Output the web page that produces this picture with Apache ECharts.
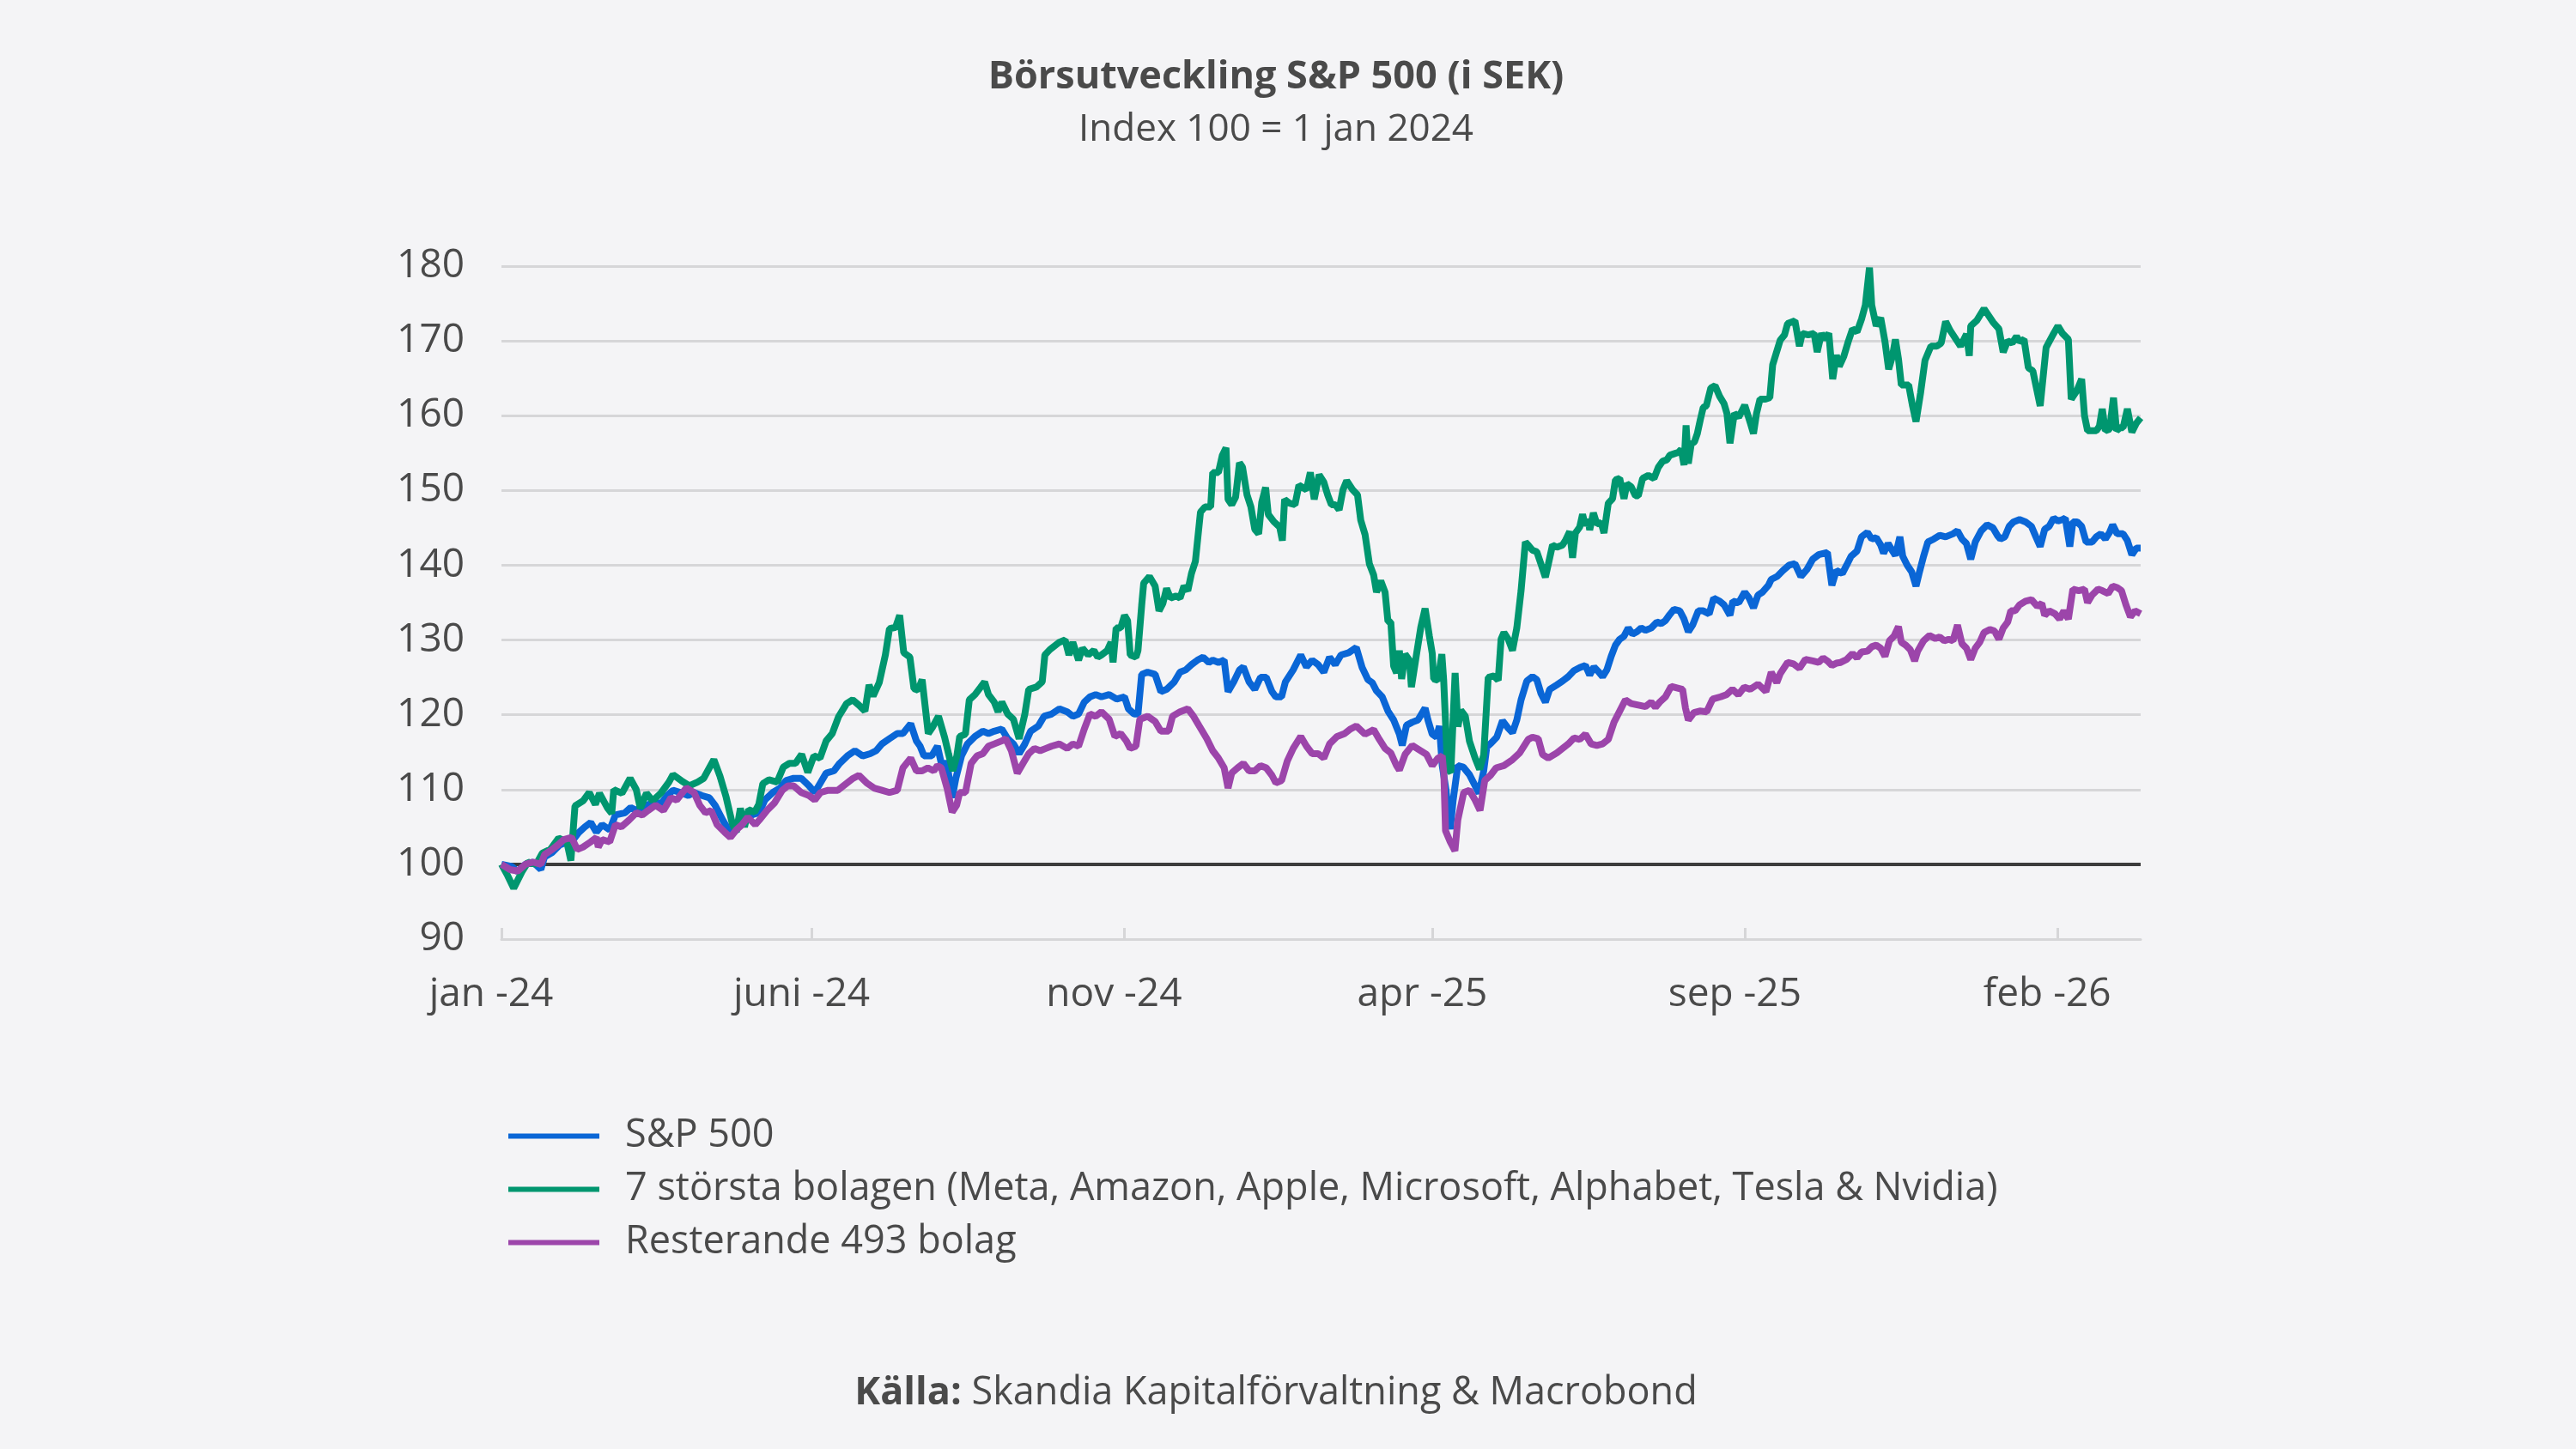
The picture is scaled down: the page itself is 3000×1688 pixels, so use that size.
<!DOCTYPE html>
<html>
<head>
<meta charset="utf-8">
<script src="https://cdn.jsdelivr.net/npm/echarts@6/dist/echarts.min.js"></script>
<style>
html,body{margin:0;padding:0;background:#f4f4f6;}
#chart{width:3000px;height:1688px;}
</style>
</head>
<body>
<div id="chart"></div>
<script>
// ---- Data ----
const titleText = 'Börsutveckling S&P 500 (i SEK)';
const subtitleText = 'Index 100 = 1 jan 2024';
const sourceBold = 'Källa:';
const sourceText = ' Skandia Kapitalförvaltning & Macrobond';

const seriesNames = [
  'S&P 500',
  '7 största bolagen (Meta, Amazon, Apple, Microsoft, Alphabet, Tesla & Nvidia)',
  'Resterande 493 bolag'
];

const xTickDates = ['2024-01-01', '2024-06-01', '2024-11-01', '2025-04-01', '2025-09-01', '2026-02-01'];
const xTickLabels = ['jan -24', 'juni -24', 'nov -24', 'apr -25', 'sep -25', 'feb -26'];
const yMin = 90, yMax = 180, yStep = 10;
const baseline = 100;

// [days since 2024-01-01, index value]
const spData = [[0,100],[5.1,99.7],[8,99],[11.7,100],[15.5,100.3],[19.3,99.3],[21.1,101],[24.9,101.6],[28.6,102.6],[32.4,103],[35.2,103.3],[38,104.3],[40.8,105],[43.7,105.6],[46.5,104.3],[49.3,105.3],[53,104.6],[55.8,106.6],[60.5,106.9],[63.3,107.6],[66.1,107.2],[69,107.6],[73.7,108.2],[78.4,108.2],[81.2,109.2],[84,109.9],[87.7,109.6],[91.5,109.2],[94.3,109.6],[98.1,109.2],[101.8,108.9],[104.6,107.9],[108.4,105.9],[111.2,104.6],[114,104.3],[116.8,105.3],[119.6,105.9],[122.5,106.6],[126.2,106.9],[129,108.6],[132.8,109.6],[136.5,110.2],[139.3,111.2],[143.1,111.5],[146.8,111.5],[150.6,110.5],[153.4,109.6],[156.2,110.9],[159,112.2],[162.8,112.5],[165.6,113.5],[169.4,114.5],[173.1,115.2],[176.9,114.5],[180.6,114.8],[183.5,115.2],[186.3,116.1],[190,116.8],[193.8,117.5],[196.6,117.5],[200.4,118.8],[203.2,116.5],[205,115.8],[206.9,114.5],[210.7,114.5],[213.5,115.8],[215.4,113.5],[218.2,113.5],[220.7,108.9],[222.5,111.5],[225.3,114.5],[228.2,116.1],[231.9,117.1],[235.7,117.8],[238.5,117.5],[241.3,117.8],[245,118.1],[247.9,116.8],[250.7,116.1],[253.5,114.8],[256.3,116.1],[259.1,117.8],[262.9,118.5],[265.7,119.8],[269.4,120.1],[273.2,120.8],[277,120.4],[279.8,119.8],[282.6,120.1],[285.4,121.7],[288.2,122.4],[291,122.7],[293.8,122.4],[297.6,122.7],[301.3,122.1],[305.1,122.4],[307,120.8],[309.8,120.1],[311.7,120.1],[313.5,125.4],[316.4,125.7],[320.1,125.4],[322.9,123.1],[325.7,123.4],[329.5,124.4],[332.3,125.7],[335.1,126],[337.9,126.7],[340.8,127.3],[343.6,127.7],[346.4,127],[348.3,127.3],[351.1,127],[353.9,127.3],[355.8,123.1],[358.6,124.4],[361.4,126],[363.3,126.4],[366.1,124.4],[368.9,123.4],[371.7,125],[374.5,125],[377.3,123.1],[379.2,122.4],[382,122.4],[383.9,124.4],[387.7,126],[391.4,128],[394.2,126.4],[397,127.3],[399.9,126.7],[402.7,125.7],[405.5,127.7],[408.3,126.7],[411.1,128],[414.9,128.3],[418.6,129],[421.5,126.3],[424.3,124.7],[426.4,124.3],[428.5,123.2],[431.3,122.4],[434.1,120.5],[436.9,119.3],[439.7,117.4],[441.1,115.9],[443.2,118.6],[446,119],[448.8,119.3],[452.3,120.9],[453.7,119.3],[455.8,117.4],[457.9,117],[459.3,118.5],[460.7,113.2],[462.5,110],[464.6,104.7],[466,108.5],[468.3,113.2],[471,113],[474,112],[476.8,110.5],[478.7,109.5],[481,112.5],[482.5,115.7],[484.6,116.2],[487.4,117],[490.2,119.2],[493,118.2],[495.1,117.6],[497.2,119.3],[499.3,122],[502.1,124.5],[504.9,125.1],[507,124.7],[509.1,122.8],[511.2,121.7],[513.3,123.4],[516.8,124],[519.6,124.5],[522.4,125.1],[525.2,125.9],[528,126.3],[530.8,126.6],[532.9,125.3],[535,126.4],[537.1,125.8],[539.2,125.1],[541.3,126],[543.4,127.8],[545.5,129.3],[547.6,130.1],[549.7,130.5],[551.8,131.6],[553.9,130.8],[556,131.1],[558.1,131.6],[560.2,131.3],[563,131.6],[565.8,132.4],[567.9,132.2],[570,132.6],[572.1,133.4],[574.2,134.1],[577,133.9],[579.1,132.8],[581.2,131.1],[583.3,132],[586.1,133.9],[588.5,133.9],[591.4,133.5],[593.6,135.6],[596.5,135.2],[598.7,134.7],[601.6,133.3],[603,135.2],[605.9,135],[608.8,136.4],[611,135.6],[613.1,134.3],[615.3,136],[617.5,136.4],[620.4,137.3],[621.8,138.1],[624.7,138.5],[627.6,139.3],[630.5,140],[633.4,140.2],[636.3,138.5],[639.2,139.4],[642.1,140.8],[645,141.4],[649.3,141.7],[651.5,137.3],[653.7,139.3],[656.6,138.9],[658.7,140],[660.9,141.2],[663.8,141.9],[666,143.8],[668.9,144.4],[671,143.5],[673.2,143.7],[675.4,142.7],[676.8,141.6],[679,142.9],[681.2,141.9],[682.6,141.3],[684.8,143.8],[686.2,141.2],[688.4,140],[690.6,139.1],[692.7,137.2],[694.2,138.9],[696.4,141.2],[698.5,143.1],[701.4,143.5],[704.3,144],[707.2,143.8],[710.8,144.2],[713,144.6],[715.2,143.5],[717.4,142.9],[719.5,140.8],[721.7,143.1],[724.6,144.6],[727.5,145.4],[730.4,145],[732.5,144],[734,143.5],[736.2,143.8],[738.3,145.2],[740.5,145.8],[743.4,146.1],[746.3,145.8],[749.2,145.2],[751.4,143.8],[753.5,142.5],[755.7,144.8],[757.9,145.2],[760.1,146.3],[762.2,145.9],[764.4,146.1],[765.8,146.3],[768,142.5],[769.5,145.8],[771.6,145.8],[773.8,145.2],[776,143.1],[778.9,143.1],[781,143.8],[783.2,144.2],[785.4,143.5],[787.5,144.4],[789,145.4],[791.2,144.2],[794.1,144.2],[796.2,143.3],[798.4,141.4],[800.6,142.3],[802.7,142.3]];

const m7Data = [[0,100],[3,98.5],[6,96.8],[10,99],[13,100.3],[17,100],[20,101.5],[24,102],[28,103.5],[32,103],[34,100.5],[36,107.8],[40,108.5],[43,109.6],[46,108],[48,109.5],[52,107.5],[54,106.8],[55,110],[59,109.5],[63,111.5],[66,110],[68,107.5],[71,109.5],[74,108.5],[78,109.5],[82,111],[84,112],[88,111.2],[92,110.5],[96,111],[99,111.5],[101,112.5],[104,114],[107,111.8],[110,109],[113,105.5],[115,104.3],[117,107.5],[119,105],[121,107.3],[124,107],[126,108],[128,110.8],[131,111.3],[135,111],[138,113],[141,113.5],[144,113.5],[147,114.7],[150,112.3],[153,114.5],[156,114.2],[159,116.5],[162,117.5],[165,119.7],[169,121.5],[172,122],[175,121.3],[178,120.5],[180,124],[182,122.5],[185,124.3],[188,128],[190,131.5],[193,131.7],[195,133.3],[197,128.3],[200,127.7],[202,123.5],[204,123.3],[206,124.7],[209,117.5],[211,118.3],[214,119.8],[217,117],[219,114.7],[221,112.5],[223,114.5],[224.4,117.1],[227.2,117.4],[229.1,122],[231.9,122.7],[234.7,123.7],[236.6,124.4],[238.5,122.7],[241.3,121.7],[243.2,120.4],[245,121.7],[247.9,120.1],[250.7,119.4],[253.5,116.8],[256.3,120.1],[258.2,123.4],[261.9,123.7],[264.8,124.4],[266.1,128],[268.5,128.7],[271.3,129.3],[273.2,129.7],[276,130],[277.9,128],[279.8,129.7],[282.6,127.3],[284.5,128.9],[287.3,128],[290.1,128.6],[292,127.7],[293.8,128],[296.7,128.6],[298.5,129.7],[299.5,127],[301,131.6],[303.2,131.6],[305.1,133.3],[306.6,132.6],[307.9,128],[310.7,127.7],[311.7,128.6],[313.5,134.6],[314.5,137.6],[317.3,138.5],[320.1,137.2],[322,133.9],[323.9,134.9],[325.7,136.9],[327.6,135.6],[330.4,135.9],[332.3,135.6],[334.2,137.2],[336.1,136.6],[337.9,138.9],[339.8,140.5],[342.3,147.1],[344.5,147.8],[347.3,147.8],[348.3,152.4],[351.1,152.4],[353,154.7],[354.8,155.7],[355.8,148.8],[357.6,148.1],[359.5,149.1],[361.4,153.7],[362.9,153.1],[365.1,149.4],[367,147.8],[368.9,144.8],[370.8,144.2],[372.3,148.4],[374.2,150.4],[375.5,146.8],[378.3,145.8],[381.1,145.1],[382.4,143.3],[383.5,148.8],[385.8,148.3],[388.6,148.1],[390.5,150.7],[394.2,150.1],[396.1,152.4],[398,148.8],[400.4,152.1],[402.7,151.1],[404.6,149.4],[406.4,148.1],[408.3,148.1],[410.2,147.4],[412.1,150.1],[413.9,151.3],[416.8,150.1],[419.2,149.4],[420.8,146],[422.9,144.1],[425,140.2],[427.1,138.7],[428.5,136.4],[430.6,137.9],[432.7,136.4],[434.1,132.5],[435.5,132.4],[436.9,126.5],[438.3,125.6],[439.7,128.6],[440.8,124.8],[442.5,128.1],[444.6,127.3],[445.6,123.7],[448.1,128.1],[450.2,131.7],[452.3,134.2],[454.4,130.5],[455.8,128.2],[456.5,124.8],[458.6,124.6],[460.5,128.1],[461.4,124.6],[463.3,112.7],[464.9,112.3],[467,125.6],[468.4,118.4],[469.8,120.6],[472,119.8],[474,116.5],[476.8,114.2],[479,112.7],[481,114.6],[483.2,125],[486,125.2],[488.1,124.6],[489.5,130.1],[490.9,131],[493,130.1],[495.1,128.6],[497.2,131.6],[499.3,136.6],[501.4,143.1],[502.8,142.7],[504.9,142],[507,141.8],[509.1,140.1],[511.2,138.4],[512.6,140.1],[514.7,142.7],[516.8,142.4],[519.6,142.7],[521,143.3],[523.1,144.5],[524.5,141],[525.9,144.3],[528,145.1],[529.4,146.8],[530.8,145.3],[532.2,146.2],[532.9,144.7],[534.7,147],[536.4,145.5],[538.5,145.7],[539.9,144.3],[542,148.3],[544.1,148.9],[545.5,151.4],[547.6,151.6],[549.7,148.9],[551.1,150.9],[553.2,150.5],[555.3,149.3],[556.7,149.3],[558.8,151.6],[561.6,152],[564.4,151.6],[566.5,153.1],[568.6,153.9],[570.7,154.1],[572.1,154.7],[574.2,154.9],[576.3,155.1],[577.7,155.5],[579.1,153.4],[580.1,158.7],[581.2,153.6],[582.6,156.2],[584.2,156.5],[585.6,157.6],[587.1,159.5],[588.5,161.1],[590,161.3],[592.2,163.7],[594.3,164],[596.5,162.6],[598.7,161.6],[600.1,160.3],[601.6,156.3],[603.7,160.3],[605.9,159.8],[608.8,161.4],[611.7,158.9],[613.1,157.6],[614.6,160.3],[616.3,162.2],[618.9,162.2],[621.1,162.4],[622.5,166.8],[626.2,170.1],[628.3,170.8],[629.8,172.3],[633.4,172.7],[635.6,169.3],[637,171],[639.9,170.8],[642.8,171],[644.3,168.5],[646.4,171],[647.9,170.2],[650,171],[651.9,164.9],[653.7,168.1],[655.1,166.6],[657.3,167.9],[659.5,169.9],[661.6,171.6],[663.8,171.2],[666,172.9],[667.9,174.8],[669.9,179.8],[671,174.8],[673.2,172],[675.4,173.1],[677.5,169.9],[679.3,166.2],[681.2,168],[682.6,170.2],[684.1,167.6],[685.5,164.1],[689.1,164.1],[691,161.3],[692.7,159.2],[694.9,163],[697.1,167.4],[700,169.3],[702.9,169.3],[705,169.7],[707.2,172.6],[709.4,171.4],[712.3,170.2],[714.5,169.3],[717.4,170.9],[718.8,168],[719.5,172],[722.4,172.7],[726,174.3],[730.4,172.5],[733.3,171.6],[735.4,168.5],[737.6,170],[739.8,169.7],[741.9,170.6],[743.4,169.9],[745.6,170.2],[747.7,166.4],[749.9,166],[753.5,161.3],[756.4,169.1],[760.1,171],[762.2,172],[764.4,171],[767.3,170.2],[768.7,162.2],[771.6,163.4],[773.8,164.9],[775.2,160],[776.7,158],[781,158],[782.5,158.6],[783.9,160.9],[785.4,158],[787.5,158.2],[789.4,162.4],[790.9,158],[792.6,158.4],[794.1,158.4],[796.2,160.9],[798.4,157.8],[800.6,159],[802.7,159.7]];

const restData = [[0,100],[4.2,99.3],[8,99.1],[11.7,100],[15.5,100.3],[19.3,100],[21.1,101.3],[24.9,102],[27.7,102.6],[30.5,103.3],[34.3,103.6],[37.1,102],[39.9,102.3],[43.7,103],[46.5,103.6],[47.4,102.3],[49.3,103.3],[53,103],[55.8,105.3],[58.7,105],[62.4,105.9],[66.1,106.9],[69,106.6],[71.8,107.2],[75.5,107.9],[79.3,107.2],[83,108.9],[85.8,108.6],[88.7,109.6],[90.5,110.2],[94.3,109.6],[97.1,107.9],[99.9,106.9],[102.7,107.2],[105.6,105.3],[109.3,104.3],[112.1,103.6],[115,104.6],[117.8,105.3],[120.6,106.3],[124.3,105.3],[126.2,105.9],[130,107.2],[133.7,108.2],[137.5,109.9],[140.3,110.5],[143.1,110.5],[146.8,109.6],[150.6,109.2],[153.4,108.6],[156.2,109.6],[160,109.9],[164.7,109.9],[167.5,110.5],[172.2,111.5],[175,111.9],[178.8,110.9],[182.5,110.2],[186.3,109.9],[190,109.6],[193.8,109.9],[196.6,112.9],[200.4,114.2],[203.2,112.5],[206,112.5],[208.8,112.9],[211.7,112.5],[213.5,113.2],[215.4,112.9],[218.2,110.2],[220.7,107],[222.9,107.9],[224.4,109.6],[227.2,109.6],[230,113.5],[232.9,114.5],[235.7,114.8],[238.5,115.8],[241.3,116.1],[245,116.5],[246.9,116.8],[249.7,115.2],[252.6,112.2],[255.4,113.5],[258.2,114.8],[261,115.5],[263.8,115.2],[266.6,115.5],[269.4,115.8],[273.2,116.1],[277,115.5],[279.8,116.1],[282.6,115.8],[285.4,118.1],[288.2,120.1],[291,119.8],[293.8,120.4],[297.6,119.4],[300.4,117.1],[303.2,117.5],[306,116.5],[307.9,115.5],[310.7,115.8],[312.6,119.4],[316.4,119.8],[320.1,119.1],[322.9,117.8],[326.7,117.8],[328.6,119.8],[332.3,120.4],[336.1,120.8],[338.9,119.8],[341.7,118.5],[345.4,116.8],[348.3,115.2],[351.1,114.2],[353.9,112.9],[355.8,110.2],[357.6,112.2],[360.5,112.9],[363.3,113.5],[366.1,112.5],[368.9,112.5],[371.7,113.2],[374.5,112.9],[377.3,111.9],[379.2,110.9],[382,111.2],[384.8,113.8],[387.7,115.5],[391.4,117.1],[394.2,115.8],[397,114.8],[399.9,114.8],[402.7,114.2],[405.5,116.1],[409.2,117.1],[413,117.5],[415.8,118.1],[418.6,118.5],[422.9,117.4],[427.1,118],[429.9,116.7],[432.7,115.5],[435.5,114.9],[438.3,113.2],[439.7,112.6],[442.5,114.7],[446,115.9],[449.5,115.3],[453,114.7],[455.8,113.2],[458.6,114.2],[460.7,114.5],[461.5,112],[462.3,104.5],[464.6,103],[466.9,101.8],[468.3,105.9],[471.2,109.6],[474,109.9],[476.8,108.6],[479.2,107.2],[481.5,111.2],[484.3,111.9],[487.1,112.9],[490.9,113.2],[495.1,114],[498.6,114.9],[502.8,116.7],[504.9,117],[507.7,116.8],[509.8,114.7],[512.6,114.2],[516.8,114.9],[519.6,115.5],[522.4,116.1],[525.2,116.9],[528,116.7],[530.8,117.4],[533.6,116.1],[536.4,115.9],[539.2,116.1],[542,116.7],[544.8,119],[547.6,120.5],[550.4,122],[553.2,121.5],[556.7,121.3],[560.2,121.1],[563,121.7],[565.1,121],[567.2,121.7],[570,122.4],[572.8,123.8],[575.6,123.6],[578.4,123.4],[579.8,120.9],[581.2,119.3],[584,120.3],[586.8,120.5],[590.2,120.4],[593.1,122.1],[597,122.4],[599.9,122.7],[602.8,123.4],[605.7,122.7],[608.6,123.7],[611.5,123.4],[615.3,124.1],[619.2,123.1],[621.8,125.7],[624.5,124.3],[626.2,125.5],[629.8,127],[632.7,126.8],[635.6,126.2],[638.5,127.4],[642.1,127.2],[645,127],[647.2,127.6],[649.3,127.2],[651.5,126.6],[653.7,126.9],[655.8,127],[658.7,127.4],[661.6,128.2],[663.8,127.6],[666,128.4],[668.9,128.5],[671,129.1],[673.2,129.3],[675.4,128.9],[677.5,127.8],[679.7,129.9],[681.9,130.5],[684.1,131.8],[685.5,129.7],[687.7,129.3],[689.9,128.7],[692,127.2],[693.5,128.5],[696.4,129.9],[699.3,130.6],[702.2,130.2],[704.3,130.4],[706.5,129.9],[708.7,130.1],[710.8,129.9],[713,132],[715.2,129.5],[717.4,128.9],[719.5,127.4],[721.7,128.9],[723.9,129.7],[726,131],[728.9,131.4],[731.1,131.2],[733.3,130.1],[735.4,131.6],[737.6,132.4],[739.1,133.9],[741.2,133.9],[743.4,134.7],[746.3,135.2],[749.2,135.4],[752.1,134.5],[754.3,134.9],[755.7,133.3],[757.9,133.9],[760.8,133.5],[763,132.8],[765.1,133.9],[767.3,132.8],[769.5,136.8],[772.4,136.6],[775.2,136.8],[776.7,135],[778.9,136],[781.8,136.8],[783.9,136.6],[786.8,136.2],[789,137.2],[791.2,137],[793.3,136.6],[795.5,134.7],[797.7,133.1],[799.9,133.9],[802.7,133.5]];

// ---- Chart ----
const DAY = 86400000;
const t0 = Date.UTC(2024, 0, 1);
const xTickDays = xTickDates.map(d => Math.round((Date.parse(d) - t0) / DAY));
const xEnd = spData[spData.length - 1][0];

const FONT = 'Open Sans';
const TEXT = '#4a4a4a';
const colors = ['#0a66d6', '#00966f', '#9c45aa'];

const chart = echarts.init(document.getElementById('chart'), null, {renderer: 'canvas'});

const option = {
  backgroundColor: '#f4f4f6',
  animation: false,
  textStyle: {fontFamily: FONT},
  graphic: [
    {type: 'text', x: 1486, y: 90, style: {text: titleText, fontFamily: FONT, fontSize: 45, fontWeight: 'bold', fill: TEXT, align: 'center', verticalAlign: 'middle'}},
    {type: 'text', x: 1486, y: 151, style: {text: subtitleText, fontFamily: FONT, fontSize: 44, fill: TEXT, align: 'center', verticalAlign: 'middle'}},
    {type: 'text', x: 1486, y: 1623, style: {
      text: '{b|' + sourceBold + '}{n|' + sourceText + '}',
      align: 'center', verticalAlign: 'middle',
      rich: {
        b: {fontFamily: FONT, fontSize: 45, fontWeight: 'bold', fill: TEXT, color: TEXT},
        n: {fontFamily: FONT, fontSize: 45, fill: TEXT, color: TEXT}
      }
    }}
  ],
  legend: {
    orient: 'vertical',
    left: 587,
    top: 1296,
    itemWidth: 106,
    itemHeight: 6,
    itemGap: 17,
    icon: 'rect',
    selectedMode: false,
    textStyle: {fontFamily: FONT, fontSize: 45, color: TEXT, lineHeight: 44, padding: [0, 0, 0, 25]},
    data: seriesNames
  },
  grid: {left: 584, right: 507, top: 310, bottom: 594, containLabel: false},
  xAxis: {
    type: 'value',
    min: 0,
    max: xEnd,
    splitLine: {show: false},
    axisLine: {show: true, lineStyle: {color: '#d6d6d8', width: 3}},
    axisTick: {show: true, inside: true, length: 13, customValues: xTickDays, lineStyle: {color: '#d6d6d8', width: 3}},
    axisLabel: {
      customValues: xTickDays,
      margin: 42,
      fontFamily: FONT, fontSize: 46, color: TEXT,
      padding: [0, 24, 0, 0],
      formatter: v => {
        const i = xTickDays.indexOf(Math.round(v));
        return i >= 0 ? xTickLabels[i] : '';
      }
    }
  },
  yAxis: {
    type: 'value',
    min: yMin, max: yMax, interval: yStep,
    axisLine: {show: false},
    axisTick: {show: false},
    splitLine: {show: true, lineStyle: {color: '#d6d6d8', width: 3}},
    axisLabel: {margin: 43, fontFamily: FONT, fontSize: 46, color: TEXT}
  },
  series: [
    {
      name: seriesNames[0], type: 'line', data: spData, showSymbol: false, symbol: 'none',
      lineStyle: {width: 8, color: colors[0]}, itemStyle: {color: colors[0]}, z: 3,
      markLine: {
        silent: true, symbol: ['none', 'none'], label: {show: false},
        lineStyle: {color: '#3c3c3c', width: 4, type: 'solid'},
        data: [{yAxis: baseline}], z: 1
      }
    },
    {
      name: seriesNames[1], type: 'line', data: m7Data, showSymbol: false, symbol: 'none',
      lineStyle: {width: 8, color: colors[1]}, itemStyle: {color: colors[1]}, z: 4
    },
    {
      name: seriesNames[2], type: 'line', data: restData, showSymbol: false, symbol: 'none',
      lineStyle: {width: 8, color: colors[2]}, itemStyle: {color: colors[2]}, z: 5
    }
  ]
};

chart.setOption(option);
</script>
</body>
</html>
